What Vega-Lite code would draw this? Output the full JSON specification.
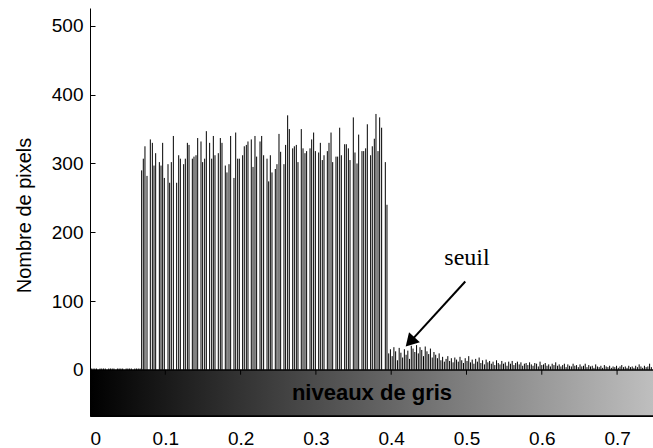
{
  "$schema": "https://vega.github.io/schema/vega-lite/v6.json",
  "width": 563,
  "height": 408,
  "autosize": "none",
  "padding": {"left": 90, "top": 8, "right": 0, "bottom": 32},
  "background": "white",
  "config": {"view": {"stroke": null}, "font": "Liberation Sans"},
  "datasets": {
    "hist": [
      {"x":0.0018,"n":2},{"x":0.0041,"n":2},{"x":0.0064,"n":2},{"x":0.0087,"n":2},
      {"x":0.0133,"n":2},{"x":0.0156,"n":2},{"x":0.0179,"n":2},{"x":0.0203,"n":2},
      {"x":0.0249,"n":2},{"x":0.0272,"n":2},{"x":0.0295,"n":2},{"x":0.0318,"n":2},
      {"x":0.0364,"n":2},{"x":0.0387,"n":2},{"x":0.0410,"n":2},{"x":0.0434,"n":2},
      {"x":0.0480,"n":2},{"x":0.0503,"n":2},{"x":0.0526,"n":2},{"x":0.0549,"n":2},
      {"x":0.0595,"n":2},{"x":0.0618,"n":2},{"x":0.0641,"n":2},{"x":0.0665,"n":2},
      {"x":0.0686,"n":290},{"x":0.0708,"n":307},{"x":0.0730,"n":325},{"x":0.0757,"n":282},
      {"x":0.0801,"n":335},{"x":0.0828,"n":330},{"x":0.0850,"n":297},{"x":0.0872,"n":315},
      {"x":0.0921,"n":302},{"x":0.0943,"n":297},{"x":0.0965,"n":330},{"x":0.0987,"n":279},
      {"x":0.1036,"n":299},{"x":0.1058,"n":272},{"x":0.1080,"n":302},{"x":0.1107,"n":340},
      {"x":0.1151,"n":272},{"x":0.1178,"n":312},{"x":0.1200,"n":307},
      {"x":0.1244,"n":299},{"x":0.1266,"n":307},{"x":0.1293,"n":330},{"x":0.1315,"n":327},
      {"x":0.1359,"n":307},{"x":0.1381,"n":310},{"x":0.1408,"n":312},{"x":0.1430,"n":337},
      {"x":0.1474,"n":332},{"x":0.1496,"n":302},{"x":0.1523,"n":307},{"x":0.1545,"n":347},
      {"x":0.1589,"n":330},{"x":0.1616,"n":307},{"x":0.1638,"n":340},{"x":0.1660,"n":312},
      {"x":0.1704,"n":315},{"x":0.1731,"n":337},{"x":0.1753,"n":330},
      {"x":0.1797,"n":297},{"x":0.1819,"n":287},{"x":0.1846,"n":299},{"x":0.1868,"n":340},
      {"x":0.1912,"n":279},{"x":0.1935,"n":345},{"x":0.1961,"n":307},{"x":0.1983,"n":307},
      {"x":0.2027,"n":312},{"x":0.2049,"n":325},{"x":0.2076,"n":327},{"x":0.2098,"n":332},
      {"x":0.2142,"n":335},{"x":0.2165,"n":295},{"x":0.2191,"n":340},{"x":0.2213,"n":310},
      {"x":0.2258,"n":332},{"x":0.2280,"n":340},{"x":0.2306,"n":312},
      {"x":0.2351,"n":307},{"x":0.2373,"n":274},{"x":0.2395,"n":312},{"x":0.2417,"n":287},
      {"x":0.2461,"n":292},{"x":0.2483,"n":299},{"x":0.2510,"n":343},{"x":0.2532,"n":317},
      {"x":0.2576,"n":299},{"x":0.2598,"n":327},{"x":0.2625,"n":370},{"x":0.2647,"n":350},
      {"x":0.2692,"n":322},{"x":0.2714,"n":325},{"x":0.2740,"n":327},{"x":0.2762,"n":302},
      {"x":0.2806,"n":350},{"x":0.2829,"n":322},{"x":0.2855,"n":315},{"x":0.2877,"n":318},
      {"x":0.2922,"n":322},{"x":0.2944,"n":335},{"x":0.2970,"n":345},{"x":0.2993,"n":318},
      {"x":0.3037,"n":316},{"x":0.3059,"n":330},{"x":0.3085,"n":305},{"x":0.3108,"n":312},
      {"x":0.3152,"n":318},{"x":0.3174,"n":330},{"x":0.3201,"n":345},{"x":0.3223,"n":302},
      {"x":0.3267,"n":310},{"x":0.3289,"n":310},{"x":0.3316,"n":352},{"x":0.3338,"n":312},
      {"x":0.3382,"n":328},{"x":0.3404,"n":328},{"x":0.3431,"n":322},{"x":0.3453,"n":305},
      {"x":0.3497,"n":367},{"x":0.3519,"n":316},{"x":0.3546,"n":300},{"x":0.3568,"n":342},
      {"x":0.3612,"n":318},{"x":0.3635,"n":318},{"x":0.3661,"n":322},{"x":0.3683,"n":357},
      {"x":0.3727,"n":312},{"x":0.3749,"n":325},{"x":0.3776,"n":336},{"x":0.3798,"n":372},
      {"x":0.3825,"n":318},{"x":0.3847,"n":367},{"x":0.3873,"n":352},
      {"x":0.3922,"n":302},{"x":0.3944,"n":240},
      {"x":0.3967,"n":24},{"x":0.3990,"n":30},{"x":0.4013,"n":20},{"x":0.4036,"n":33},{"x":0.4059,"n":27},
      {"x":0.4083,"n":14},{"x":0.4106,"n":32},{"x":0.4129,"n":25},{"x":0.4152,"n":18},{"x":0.4175,"n":30},
      {"x":0.4198,"n":22},{"x":0.4221,"n":28},{"x":0.4244,"n":16},{"x":0.4267,"n":35},{"x":0.4290,"n":31},
      {"x":0.4314,"n":26},{"x":0.4337,"n":36},{"x":0.4360,"n":24},{"x":0.4383,"n":33},{"x":0.4406,"n":29},
      {"x":0.4429,"n":20},{"x":0.4452,"n":34},{"x":0.4475,"n":27},{"x":0.4498,"n":23},{"x":0.4521,"n":31},
      {"x":0.4545,"n":18},{"x":0.4568,"n":26},{"x":0.4591,"n":22},{"x":0.4614,"n":17},{"x":0.4637,"n":24},
      {"x":0.4660,"n":14},{"x":0.4683,"n":19},{"x":0.4706,"n":12},{"x":0.4729,"n":16},{"x":0.4752,"n":20},
      {"x":0.4776,"n":13},{"x":0.4799,"n":17},{"x":0.4822,"n":11},{"x":0.4845,"n":18},{"x":0.4868,"n":15},
      {"x":0.4891,"n":12},{"x":0.4914,"n":19},{"x":0.4937,"n":14},{"x":0.4960,"n":10},{"x":0.4983,"n":17},
      {"x":0.5007,"n":13},{"x":0.5030,"n":20},{"x":0.5053,"n":11},{"x":0.5076,"n":15},{"x":0.5099,"n":9},
      {"x":0.5122,"n":16},{"x":0.5145,"n":12},{"x":0.5168,"n":18},{"x":0.5191,"n":10},{"x":0.5214,"n":14},
      {"x":0.5238,"n":8},{"x":0.5261,"n":15},{"x":0.5284,"n":11},{"x":0.5307,"n":13},{"x":0.5330,"n":9},
      {"x":0.5353,"n":12},{"x":0.5376,"n":7},{"x":0.5399,"n":14},{"x":0.5422,"n":10},{"x":0.5445,"n":8},
      {"x":0.5469,"n":13},{"x":0.5492,"n":9},{"x":0.5515,"n":11},{"x":0.5538,"n":6},{"x":0.5561,"n":12},
      {"x":0.5584,"n":9},{"x":0.5607,"n":13},{"x":0.5630,"n":7},{"x":0.5653,"n":10},{"x":0.5676,"n":12},
      {"x":0.5700,"n":8},{"x":0.5723,"n":11},{"x":0.5746,"n":6},{"x":0.5769,"n":9},{"x":0.5792,"n":10},
      {"x":0.5815,"n":7},{"x":0.5838,"n":11},{"x":0.5861,"n":8},{"x":0.5884,"n":6},{"x":0.5907,"n":10},
      {"x":0.5931,"n":9},{"x":0.5954,"n":5},{"x":0.5977,"n":12},{"x":0.6000,"n":7},{"x":0.6023,"n":8},
      {"x":0.6046,"n":10},{"x":0.6069,"n":6},{"x":0.6092,"n":8},{"x":0.6115,"n":5},{"x":0.6138,"n":9},
      {"x":0.6162,"n":7},{"x":0.6185,"n":11},{"x":0.6208,"n":6},{"x":0.6231,"n":8},{"x":0.6254,"n":5},
      {"x":0.6277,"n":7},{"x":0.6300,"n":9},{"x":0.6323,"n":4},{"x":0.6346,"n":8},{"x":0.6369,"n":6},
      {"x":0.6393,"n":5},{"x":0.6416,"n":9},{"x":0.6439,"n":6},{"x":0.6462,"n":7},{"x":0.6485,"n":4},
      {"x":0.6508,"n":8},{"x":0.6531,"n":5},{"x":0.6554,"n":6},{"x":0.6577,"n":9},{"x":0.6600,"n":4},
      {"x":0.6624,"n":7},{"x":0.6647,"n":5},{"x":0.6670,"n":6},{"x":0.6693,"n":3},{"x":0.6716,"n":8},
      {"x":0.6739,"n":5},{"x":0.6762,"n":4},{"x":0.6785,"n":6},{"x":0.6808,"n":3},{"x":0.6831,"n":7},
      {"x":0.6855,"n":5},{"x":0.6878,"n":4},{"x":0.6901,"n":6},{"x":0.6924,"n":3},{"x":0.6947,"n":5},
      {"x":0.6970,"n":4},{"x":0.6993,"n":6},{"x":0.7016,"n":3},{"x":0.7039,"n":5},{"x":0.7062,"n":7},
      {"x":0.7086,"n":4},{"x":0.7109,"n":5},{"x":0.7132,"n":3},{"x":0.7155,"n":6},{"x":0.7178,"n":4},
      {"x":0.7201,"n":5},{"x":0.7224,"n":3},{"x":0.7247,"n":6},{"x":0.7270,"n":4},{"x":0.7293,"n":8},
      {"x":0.7317,"n":5},{"x":0.7340,"n":3},{"x":0.7363,"n":6},{"x":0.7386,"n":4},{"x":0.7409,"n":5},
      {"x":0.7432,"n":9},{"x":0.7455,"n":4}
    ],
    "ticks": [{"x":0.1},{"x":0.2},{"x":0.3},{"x":0.4},{"x":0.5},{"x":0.6},{"x":0.7}]
  },
  "layer": [
    {
      "data": {"values": [{}]},
      "mark": {
        "type": "rect",
        "clip": true,
        "fill": {"gradient": "linear", "x1": 0, "y1": 0, "x2": 1, "y2": 0,
                 "stops": [{"offset": 0, "color": "#000000"}, {"offset": 1, "color": "#ffffff"}]},
        "stroke": "black",
        "strokeWidth": 1.5
      },
      "encoding": {
        "x": {"datum": 0, "type": "quantitative"},
        "x2": {"datum": 1},
        "y": {"datum": 0, "type": "quantitative"},
        "y2": {"datum": -67}
      }
    },
    {
      "data": {"name": "ticks"},
      "mark": {"type": "rule", "color": "black", "strokeWidth": 1},
      "encoding": {
        "x": {"field": "x", "type": "quantitative"},
        "y": {"datum": 0, "type": "quantitative"},
        "y2": {"datum": -7}
      }
    },
    {
      "data": {"values": [{"t": "niveaux de gris"}]},
      "mark": {"type": "text", "fontWeight": "bold", "fontSize": 22, "font": "Liberation Sans", "color": "black", "align": "center", "baseline": "middle"},
      "encoding": {
        "x": {"datum": 0.3745, "type": "quantitative"},
        "y": {"datum": -33, "type": "quantitative"},
        "text": {"field": "t"}
      }
    },
    {
      "data": {"name": "hist"},
      "mark": {"type": "rule", "color": "black", "strokeWidth": 1, "clip": true},
      "encoding": {
        "x": {
          "field": "x", "type": "quantitative",
          "scale": {"domain": [0, 0.7477], "nice": false, "zero": false},
          "axis": {
            "values": [0, 0.1, 0.2, 0.3, 0.4, 0.5, 0.6, 0.7],
            "format": ".1~f",
            "title": null,
            "grid": false,
            "domainColor": "black",
            "tickColor": "black",
            "tickSize": -5,
            "labelPadding": 18,
            "labelColor": "black",
            "labelFont": "Liberation Sans",
            "labelFontSize": 19
          }
        },
        "y": {
          "field": "n", "type": "quantitative",
          "scale": {"domain": [-67, 526], "nice": false, "zero": false},
          "axis": {
            "values": [0, 100, 200, 300, 400, 500],
            "title": "Nombre de pixels",
            "titleFont": "Liberation Sans",
            "titleFontSize": 20,
            "titleFontWeight": "normal",
            "titleColor": "black",
            "titleX": -66,
            "titleY": 207,
            "titleAngle": -90,
            "titleAlign": "center",
            "titleBaseline": "middle",
            "grid": false,
            "domainColor": "black",
            "tickColor": "black",
            "tickSize": -5,
            "labelPadding": 12,
            "labelColor": "black",
            "labelFont": "Liberation Sans",
            "labelFontSize": 19
          }
        },
        "y2": {"datum": 0}
      }
    },
    {
      "data": {"values": [{}]},
      "mark": {"type": "rule", "color": "black", "strokeWidth": 2},
      "encoding": {
        "x": {"datum": 0.4984, "type": "quantitative"},
        "y": {"datum": 128.5, "type": "quantitative"},
        "x2": {"datum": 0.4251},
        "y2": {"datum": 40.7}
      }
    },
    {
      "data": {"values": [{}]},
      "mark": {"type": "point", "shape": "triangle-up", "angle": 222.9, "size": 220, "filled": true, "color": "black", "opacity": 1},
      "encoding": {
        "x": {"datum": 0.4251, "type": "quantitative"},
        "y": {"datum": 40.7, "type": "quantitative"}
      }
    },
    {
      "data": {"values": [{"t": "seuil"}]},
      "mark": {"type": "text", "font": "Liberation Serif", "fontSize": 24, "color": "black", "align": "center", "baseline": "alphabetic"},
      "encoding": {
        "x": {"datum": 0.5007, "type": "quantitative"},
        "y": {"datum": 153, "type": "quantitative"},
        "text": {"field": "t"}
      }
    }
  ]
}
